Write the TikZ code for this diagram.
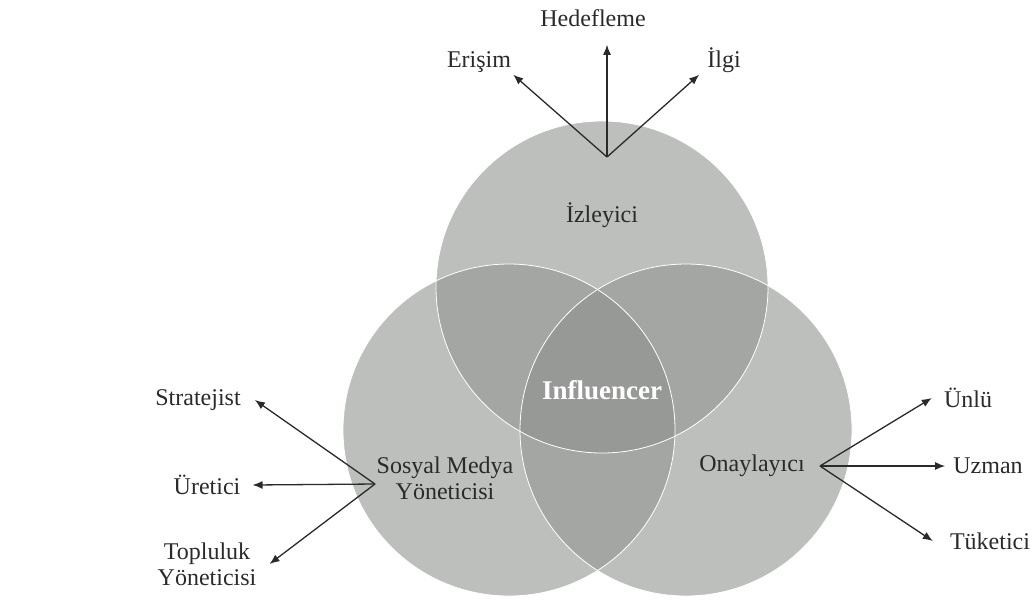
\documentclass[tikz,border=0pt]{standalone}
\usepackage{fontspec}
\setmainfont{Liberation Serif}
\usetikzlibrary{arrows.meta}
\definecolor{onegray}{HTML}{BCBFBC}
\definecolor{twogray}{HTML}{A4A6A4}
\definecolor{threegray}{HTML}{979997}
\definecolor{inkgray}{HTML}{2A2A2A}

\begin{document}
\begin{tikzpicture}[x=1pt,y=-1pt,
	lbl/.style={font=\fontsize{24}{26}\selectfont,text=inkgray,inner sep=2pt,align=center},
	arr/.style={draw=inkgray,line width=1.3pt,-{Latex[length=10pt,width=8pt]}}]
	\useasboundingbox (0,0) rectangle (1032,606);
	
	\coordinate (T) at (602,287);
	\coordinate (L) at (509,430);
	\coordinate (R) at (686,430);
	
	% circles and their overlaps
	\fill[onegray] (T) circle (166);
	\fill[onegray] (L) circle (166);
	\fill[onegray] (R) circle (166);
	\begin{scope}
		\clip (L) circle (166);
		\fill[twogray] (T) circle (166);
		\fill[twogray] (R) circle (166);
	\end{scope}
	\begin{scope}
		\clip (T) circle (166);
		\fill[twogray] (R) circle (166);
	\end{scope}
	\begin{scope}
		\clip (L) circle (166);
		\clip (T) circle (166);
		\fill[threegray] (R) circle (166);
	\end{scope}
	\draw[white,line width=0.8pt] (R) circle (166);
	\draw[white,line width=0.8pt] (L) circle (166);
	\draw[white,line width=0.8pt] (T) circle (166);
	
	\node[lbl] (hedef)    at (593,18)  {Hedefleme};
	\node[lbl] (erisim)   at (479,62)  {Erişim};
	\node[lbl] (ilgi)     at (724,60)  {İlgi};
	\node[lbl] (izleyici) at (602,215) {İzleyici};
	\node[lbl,font=\fontsize{27}{30}\selectfont\bfseries,text=white] (infl) at (602,390) {Influencer};
	\node[lbl] (sosyal)   at (445,478) {Sosyal Medya\\Yöneticisi};
	\node[lbl] (onay)     at (752,466) {Onaylayıcı};
	\node[lbl] (strat)    at (198,400) {Stratejist};
	\node[lbl] (uretici)  at (207,485) {Üretici};
	\node[lbl] (toplu)    at (207,564) {Topluluk\\Yöneticisi};
	\node[lbl] (unlu)     at (968,398) {Ünlü};
	\node[lbl] (uzman)    at (988,466) {Uzman};
	\node[lbl] (tuketici) at (990,541) {Tüketici};
	
	\coordinate (izl) at (607,157);
	\coordinate (smy) at (375,484);
	\coordinate (ony) at (820,466);
	
	\draw[arr] (izl) -- (erisim.south east);
	\draw[arr] (izl) -- ([yshift=-16pt]izl |- hedef.south);
	\draw[arr] (izl) -- ([xshift=-6pt]ilgi.south west);
	
	\draw[arr] (smy) -- ([xshift=12pt]strat.east);
	\draw[arr] (smy) -- ([xshift=10pt]uretici.east);
	\draw[arr] (smy) -- ([xshift=11pt]toplu.east);
	
	\draw[arr] (ony) -- ([xshift=-10pt]unlu.west);
	\draw[arr] (ony) -- ([xshift=-6pt]uzman.west);
	\draw[arr] (ony) -- ([xshift=-15pt]tuketici.west);
	
\end{tikzpicture}
\end{document}
